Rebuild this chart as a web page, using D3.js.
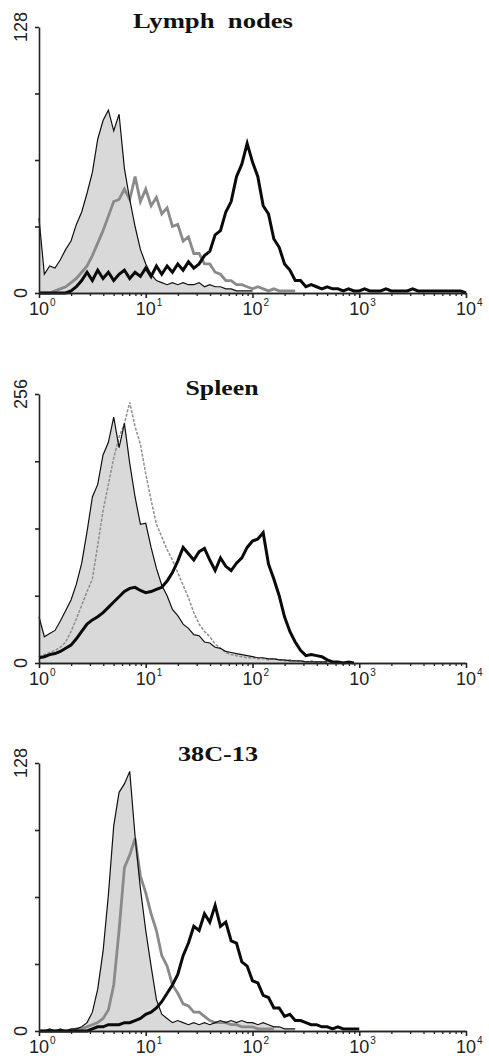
<!DOCTYPE html>
<html>
<head>
<meta charset="utf-8">
<script src="https://cdn.jsdelivr.net/npm/d3@7"></script>
<style>
  body { margin: 0; background: #fff; }
  svg { display: block; }
</style>
</head>
<body>
<div id="chart"></div>
<script>
// channel i sits at 10^(i/binsPerDecade) on the log axis
var binsPerDecade = 20;
var xTickExps = [0, 1, 2, 3, 4];

// Lymph nodes (y max 128)
var lnControl = [36, 9, 13, 12, 16, 21, 25, 33, 39, 48, 58, 74, 83, 88, 78, 86, 60, 45, 32, 21,
  14, 9, 6, 5, 4, 5, 4, 5, 4, 4, 5, 3, 4, 3, 3, 2, 2, 1, 1, 1, 1];
var lnGray = [0, 0, 0, 1, 2, 3, 5, 7, 10, 13, 18, 24, 30, 37, 44, 45, 50, 45, 56, 44,
  50, 42, 46, 38, 41, 32, 33, 25, 27, 19, 19, 14, 14, 10, 9, 6, 6, 4, 4, 3,
  2, 3, 2, 1, 2, 1, 1, 1, 1];
var lnBlack = [0, 0, 0, 0, 0, 0, 1, 3, 6, 10, 6, 11, 7, 10, 6, 9, 11, 7, 10, 8,
  12, 8, 13, 9, 13, 10, 14, 11, 15, 12, 14, 18, 20, 28, 30, 39, 44, 56, 62, 72,
  63, 56, 42, 38, 26, 22, 14, 11, 6, 6, 3, 4, 3, 2, 3, 2, 2, 1, 2, 1,
  1, 2, 1, 1, 1, 2, 1, 1, 1, 1, 2, 1, 1, 1, 1, 1, 1, 1, 1, 1, 0];

// Spleen (y max 256)
var spControl = [44, 25, 28, 31, 40, 50, 60, 75, 95, 125, 158, 170, 198, 210, 234, 205, 228, 190, 158, 132,
  133, 110, 90, 74, 64, 51, 45, 37, 33, 27, 26, 20, 19, 15, 14, 11, 10, 9, 8, 7,
  6, 5, 5, 4, 4, 3, 3, 2, 2, 2, 1, 1, 1, 1, 1];
var spGray = [6, 8, 10, 12, 15, 20, 30, 42, 55, 68, 80, 112, 145, 170, 195, 215, 228, 248, 225, 208,
  180, 155, 132, 120, 108, 98, 86, 74, 62, 48, 37, 30, 25, 18, 14, 10, 8, 7, 6, 5,
  5, 4, 4, 3, 4, 3, 2, 3, 2, 2, 1, 2, 1, 1, 1];
var spBlack = [5, 6, 8, 9, 11, 14, 17, 23, 30, 37, 41, 44, 48, 53, 58, 63, 68, 71, 72, 69,
  67, 68, 70, 72, 78, 86, 97, 110, 104, 98, 106, 109, 98, 88, 100, 92, 88, 95, 100, 110,
  116, 118, 124, 94, 80, 64, 44, 30, 20, 12, 7, 8, 7, 6, 3, 1, 1, 0, 1, 0];

// 38C-13 (y max 128)
var tcControl = [0, 0, 1, 0, 1, 0, 1, 1, 2, 4, 9, 20, 38, 65, 98, 114, 118, 124, 93, 68,
  48, 31, 15, 8, 6, 4, 5, 4, 3, 4, 3, 4, 3, 4, 5, 4, 5, 4, 5, 4,
  4, 3, 4, 3, 2, 2, 1, 1, 1];
var tcGray = [0, 0, 0, 0, 0, 0, 0, 1, 1, 2, 3, 4, 6, 10, 22, 48, 78, 84, 92, 74,
  66, 56, 48, 36, 31, 22, 18, 13, 12, 9, 9, 7, 5, 4, 4, 4, 3, 3, 2, 2,
  2, 1, 1, 1, 1];
var tcBlack = [0, 0, 0, 0, 0, 0, 0, 0, 0, 0, 1, 2, 2, 3, 3, 3, 4, 4, 5, 6,
  8, 9, 11, 14, 18, 22, 27, 36, 42, 50, 48, 56, 52, 60, 50, 52, 43, 42, 33, 31,
  24, 23, 17, 16, 11, 11, 7, 8, 5, 5, 4, 3, 3, 2, 2, 1, 2, 1, 1, 1, 1];

var titles = ["Lymph  nodes", "Spleen", "38C-13"];
var yMaxes = [128, 256, 128];

var panels = [
  {title: titles[0], yMax: yMaxes[0], top: 27, bottom: 293, tx: 213, tw: 160, ty: 28,
   control: lnControl, gray: lnGray, black: lnBlack, grayStyle: "thick"},
  {title: titles[1], yMax: yMaxes[1], top: 394, bottom: 663, tx: 222, tw: 73, ty: 395,
   control: spControl, gray: spGray, black: spBlack, grayStyle: "dotted"},
  {title: titles[2], yMax: yMaxes[2], top: 763, bottom: 1031, tx: 218, tw: 80, ty: 761,
   control: tcControl, gray: tcGray, black: tcBlack, grayStyle: "thick"}
];

var sansFont = "'Liberation Sans', Arial, sans-serif";
var serifFont = "'Liberation Serif', 'Times New Roman', serif";

var W = 489, H = 1056;
var svg = d3.select("#chart").append("svg")
  .attr("width", W).attr("height", H)
  .style("background", "#fff");

var x = d3.scaleLog().domain([1, 1e4]).range([39, 466]);

function toPoints(arr) {
  return arr.map(function(v, i) { return {f: Math.pow(10, i / binsPerDecade), v: v}; });
}

// minor + major ticks of the log axis
var majorTicks = xTickExps.map(function(e) { return Math.pow(10, e); });
var minorTicks = [];
for (var e = 0; e < 4; e++) {
  for (var m = 2; m <= 9; m++) minorTicks.push(m * Math.pow(10, e));
}

panels.forEach(function(p) {
  var y = d3.scaleLinear().domain([0, p.yMax]).range([p.bottom, p.top]);
  var g = svg.append("g");

  var line = d3.line()
    .x(function(d) { return x(d.f); })
    .y(function(d) { return y(d.v); });
  var area = d3.area()
    .x(function(d) { return x(d.f); })
    .y0(y(0))
    .y1(function(d) { return y(d.v); });

  var ctl = toPoints(p.control);

  // filled control histogram
  g.append("path")
    .attr("d", area(ctl))
    .attr("fill", "#d9d9d9")
    .attr("stroke", "none");

  // gray histogram
  var grayPath = g.append("path")
    .attr("d", line(toPoints(p.gray)))
    .attr("fill", "none");
  if (p.grayStyle == "thick") {
    grayPath.attr("stroke", "#8a8a8a").attr("stroke-width", 2.8);
  } else {
    grayPath.attr("stroke", "#8e8e8e").attr("stroke-width", 1.5)
      .attr("stroke-dasharray", "3,1.5");
  }

  // thin outline of control
  g.append("path")
    .attr("d", line(ctl))
    .attr("fill", "none")
    .attr("stroke", "#111")
    .attr("stroke-width", 1.2);

  // thick black histogram
  g.append("path")
    .attr("d", line(toPoints(p.black)))
    .attr("fill", "none")
    .attr("stroke", "#0a0a0a")
    .attr("stroke-width", 3);

  // y axis
  var yAxis = d3.axisLeft(y)
    .tickValues(d3.range(0, p.yMax + 1, p.yMax / 4))
    .tickSize(4).tickSizeOuter(0).tickFormat("");
  var ya = g.append("g").attr("transform", "translate(39,0)").call(yAxis);
  ya.selectAll("path, line").attr("stroke", "#222").attr("stroke-width", 1.6);

  [0, p.yMax].forEach(function(v) {
    g.append("text")
      .attr("transform", "translate(27," + y(v) + ") rotate(-90)")
      .attr("text-anchor", "middle")
      .style("font-family", sansFont)
      .style("font-size", "18px")
      .attr("fill", "#222")
      .text(v);
  });

  // x axis: minor and major ticks
  var xMinor = d3.axisBottom(x).tickValues(minorTicks).tickSize(3).tickSizeOuter(0).tickFormat("");
  var xMajor = d3.axisBottom(x).tickValues(majorTicks).tickSize(5).tickSizeOuter(0).tickFormat("");
  var xa1 = g.append("g").attr("transform", "translate(0," + y(0) + ")").call(xMinor);
  var xa2 = g.append("g").attr("transform", "translate(0," + y(0) + ")").call(xMajor);
  xa1.selectAll("path, line").attr("stroke", "#222").attr("stroke-width", 1.3);
  xa2.selectAll("path, line").attr("stroke", "#222").attr("stroke-width", 1.6);

  xTickExps.forEach(function(ex) {
    var tx = x(Math.pow(10, ex));
    g.append("text")
      .attr("x", tx).attr("y", y(0) + 22)
      .attr("text-anchor", "middle")
      .style("font-family", sansFont)
      .style("font-size", "18px")
      .attr("fill", "#222")
      .text("10");
    g.append("text")
      .attr("x", tx + 11).attr("y", y(0) + 13)
      .style("font-family", sansFont)
      .style("font-size", "10px")
      .attr("fill", "#222")
      .text(ex);
  });

  // panel title
  g.append("text")
    .attr("x", p.tx).attr("y", p.ty)
    .attr("text-anchor", "middle")
    .attr("textLength", p.tw)
    .attr("lengthAdjust", "spacingAndGlyphs")
    .style("font-family", serifFont)
    .style("font-weight", "bold")
    .style("font-size", "22px")
    .style("white-space", "pre")
    .attr("fill", "#111")
    .text(p.title);
});
</script>
</body>
</html>
